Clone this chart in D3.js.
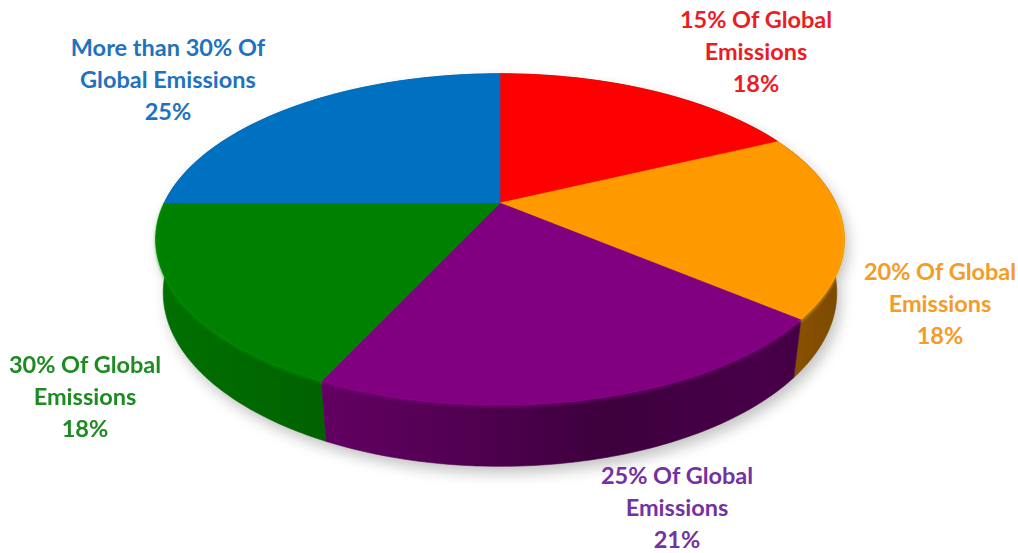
<!DOCTYPE html>
<html lang="en">
<head>
    <meta charset="UTF-8">
    <title>Global Emissions 3D Pie</title>
    <script src="https://d3js.org/d3.v7.min.js"></script>
    <style>
        body { margin: 0; background: #fff; }
        text { font-family: Lato, "Open Sans", sans-serif; font-weight: 700; }
    </style>
</head>
<body>

<div id="chart-container"></div>

<script>
    // data
    const categories = [
        ["15% Of Global", "Emissions"],
        ["20% Of Global", "Emissions"],
        ["25% Of Global", "Emissions"],
        ["30% Of Global", "Emissions"],
        ["More than 30% Of", "Global Emissions"]
    ];
    const shares = [18, 18, 21, 18, 25];
    const sliceColors = ["#FF0000", "#FF9900", "#800080", "#008000", "#0070C0"];
    const labelColors = ["#EC1C24", "#F59B26", "#7232A2", "#1E8A22", "#1F72C0"];

    const width = 1018, height = 553;

    // perspective set-up for the tilted disc
    const cx = 500, cy = 203, f = 1350, D = 4.02, T = 0.18;
    const tilt = 28 * Math.PI / 180;

    function proj(theta, r, y) {
        const x = r * Math.sin(theta), z = -r * Math.cos(theta);
        const v = y * Math.cos(tilt) - z * Math.sin(tilt);
        const dep = D - (z * Math.cos(tilt) + y * Math.sin(tilt));
        return [cx + f * x / dep, cy - f * v / dep];
    }

    function arcPoints(a0, a1, y) {
        const n = Math.max(2, Math.ceil(Math.abs(a1 - a0) / (Math.PI / 180)));
        return d3.range(n + 1).map(i => proj(a0 + (a1 - a0) * i / n, 1, y));
    }

    const line = d3.line();
    const arcs = d3.pie().sort(null).value(d => d)(shares);

    const svg = d3.select("#chart-container")
        .append("svg")
        .attr("width", width)
        .attr("height", height);

    const defs = svg.append("defs");
    defs.append("filter").attr("id", "shadow")
        .attr("x", "-20%").attr("y", "-20%").attr("width", "140%").attr("height", "140%")
        .append("feGaussianBlur").attr("stdDeviation", 7);
    defs.append("filter").attr("id", "soft")
        .append("feGaussianBlur").attr("stdDeviation", 1.2);

    // side gradients, lit from the left
    const shadeStops = [[0, 0.35], [0.25, 0.75], [0.45, 1.3], [0.65, 2.1], [0.88, 1.6], [1, 2.1]];
    arcs.forEach((a, i) => {
        const g = defs.append("linearGradient")
            .attr("id", "side" + i)
            .attr("gradientUnits", "userSpaceOnUse")
            .attr("x1", 150).attr("x2", 850).attr("y1", 0).attr("y2", 0);
        shadeStops.forEach(s => {
            g.append("stop")
                .attr("offset", s[0])
                .attr("stop-color", d3.color(sliceColors[i]).darker(s[1]).formatHex());
        });
    });

    // soft shadow under the disc
    const full = [0, 2 * Math.PI];
    svg.append("g")
        .attr("filter", "url(#shadow)")
        .attr("transform", "translate(4,7)")
        .attr("opacity", 0.35)
        .selectAll("path")
        .data([0, -T])
        .join("path")
        .attr("d", y => line(arcPoints(full[0], full[1], y)) + "Z")
        .attr("fill", "#555");

    // walls, far ones first
    const wallOrder = arcs.map((a, i) => ({ a, i }))
        .sort((p, q) => -Math.cos((p.a.startAngle + p.a.endAngle) / 2) + Math.cos((q.a.startAngle + q.a.endAngle) / 2));

    svg.append("g")
        .selectAll("path")
        .data(wallOrder)
        .join("path")
        .attr("d", d => {
            const top = arcPoints(d.a.startAngle, d.a.endAngle, 0);
            const bot = arcPoints(d.a.endAngle, d.a.startAngle, -T);
            return line(top.concat(bot)) + "Z";
        })
        .attr("fill", d => `url(#side${d.i})`)
        .attr("stroke", d => `url(#side${d.i})`)
        .attr("stroke-width", 0.6);

    // top faces
    svg.append("g")
        .selectAll("path")
        .data(arcs)
        .join("path")
        .attr("d", a => line([proj(0, 0, 0)].concat(arcPoints(a.startAngle, a.endAngle, 0))) + "Z")
        .attr("fill", (a, i) => sliceColors[i])
        .attr("stroke", (a, i) => sliceColors[i])
        .attr("stroke-width", 0.6);

    // bevel highlight along the front rim
    const lo = Math.PI * 0.5, hi = Math.PI * 1.5;
    svg.append("g")
        .attr("filter", "url(#soft)")
        .selectAll("path")
        .data(arcs.filter(a => a.endAngle > lo && a.startAngle < hi))
        .join("path")
        .attr("d", a => {
            const a0 = Math.max(a.startAngle, lo), a1 = Math.min(a.endAngle, hi);
            return line(arcPoints(a0, a1, -0.004));
        })
        .attr("fill", "none")
        .attr("stroke", a => d3.color(sliceColors[a.index]).brighter(0.6).formatHex())
        .attr("stroke-width", 2)
        .attr("opacity", 0.5);

    // labels
    const labelPos = [[756, 20], [940, 272], [677, 476], [85, 365], [168, 48]];
    const lineGap = 32;
    const labels = svg.append("g")
        .selectAll("text")
        .data(arcs)
        .join("text")
        .attr("text-anchor", "middle")
        .attr("font-size", 23.5)
        .attr("fill", (a, i) => labelColors[i])
        .attr("transform", (a, i) => `translate(${labelPos[i][0]},${labelPos[i][1] + 8})`);

    labels.each(function (a, i) {
        const t = d3.select(this);
        const rows = categories[i].concat([shares[i] + "%"]);
        rows.forEach((r, k) => {
            t.append("tspan").attr("x", 0).attr("y", k * lineGap).text(r);
        });
    });
</script>
</body>
</html>
